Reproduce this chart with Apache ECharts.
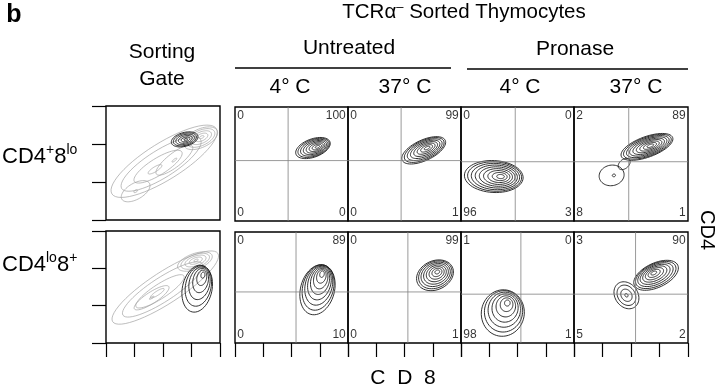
<!DOCTYPE html>
<html lang="en">
<head>
<meta charset="utf-8">
<title>TCRα- Sorted Thymocytes</title>
<script src="https://cdn.jsdelivr.net/npm/echarts@6/dist/echarts.min.js"></script>
<style>html,body{margin:0;padding:0;background:#fff}</style>
</head>
<body>
<div id="main" style="width:720px;height:388px"></div>
<script>
// quadrant percentages, order: upper-left, upper-right, lower-left, lower-right
var quadNums = [
    ['0', '100', '0', '0'], ['0', '99', '0', '1'], ['0', '0', '96', '3'], ['2', '89', '8', '1'],
    ['0', '89', '0', '10'], ['0', '99', '0', '1'], ['1', '0', '98', '1'], ['3', '90', '5', '2']
];
// quadrant gate position (CD8 on x, CD4 on y), panel scale 0-100
var quadX = [47, 47, 48, 48, 54, 53, 53, 54];
var quadY = [53, 53, 52, 52, 46, 46, 44, 44];

// contour clusters: [cx, cy, rx, ry, tilt, rings, shiftX, shiftY, faint]
var gateTop = [
    [51, 51, 54, 16, 32, 4, -8, -7, 1],
    [26, 25, 14, 7, 30, 2, 0, 0, 1],
    [60, 52, 20, 6, 38, 2, 0, 0, 1],
    [83, 71, 16, 8, 25, 5, 1, 1, 1],
    [69, 70, 12, 6, 15, 6, 1, 0, 0]
];
var gateBottom = [
    [52, 49, 55, 14, 33, 4, -7, -5, 1],
    [40, 40, 18, 5, 33, 2, 0, 0, 1],
    [78, 72, 16, 7, 20, 5, 1, 1, 1],
    [80, 48, 13, 21, -12, 6, 5, 12, 0]
];
var untreated4 = [[69, 64, 16, 8, 20, 8, 4, 1, 0]];
var untreated37 = [[67, 62, 21, 9, 25, 8, 3, 2, 0]];
var pronase4 = [[29, 39, 26, 14, -3, 9, 6, 0, 0]];
var pronase37 = [[64, 65, 24, 9, 20, 9, 3, 1, 0], [33, 40, 11, 9, 10, 2, 2, 0, 0], [44, 50, 6, 4, 40, 1, 0, 0, 0]];
var untreated4b = [[73, 48, 15, 23, -15, 8, 4, 14, 0]];
var untreated37b = [[77, 61, 17, 13, 25, 8, 2, 3, 0]];
var pronase4b = [[37, 27, 19, 21, -10, 7, 4, 9, 0]];
var pronase37b = [[72, 61, 21, 11, 25, 8, -2, 2, 0], [46, 43, 10, 13, 35, 4, 0, 0, 0]];

var panelData = [gateTop, untreated4, untreated37, pronase4, pronase37,
    gateBottom, untreated4b, untreated37b, pronase4b, pronase37b];

var font = '"Liberation Sans", Arial, Helvetica, sans-serif';

// panel boxes in px: left, top, width, height
var boxes = [
    [106, 106, 114, 114], [235, 107, 113, 114], [348, 107, 113, 114], [461, 107, 113, 114], [574, 107, 114, 114],
    [106, 231, 114, 112], [235, 232, 113, 111], [348, 232, 113, 111], [461, 232, 113, 111], [574, 232, 114, 111]
];

function ringItem(params, api) {
    var cx = api.value(0), cy = api.value(1), rx = api.value(2), ry = api.value(3);
    var tilt = api.value(4) * Math.PI / 180, n = api.value(5);
    var sx = api.value(6), sy = api.value(7), faint = api.value(8);
    var kids = [];
    for (var i = 0; i < n; i++) {
        var t = n > 1 ? i / (n - 1) : 0;
        var s = 1 - 0.87 * Math.pow(t, 1.15);
        var c = api.coord([cx + sx * t, cy + sy * t]);
        var r = api.size([rx * s, ry * s]);
        var pts = [];
        for (var k = 0; k < 56; k++) {
            var a = k / 56 * Math.PI * 2;
            var ex = r[0] * Math.cos(a), ey = r[1] * Math.sin(a);
            pts.push([c[0] + ex * Math.cos(tilt) - ey * Math.sin(tilt),
                c[1] - (ex * Math.sin(tilt) + ey * Math.cos(tilt))]);
        }
        kids.push({
            type: 'polygon', shape: {points: pts},
            style: {fill: 'none', stroke: faint ? '#a0a0a0' : '#1a1a1a', lineWidth: faint ? 0.7 : 0.9}
        });
    }
    return {type: 'group', children: kids};
}

var grid = [], xAxis = [], yAxis = [], series = [];
boxes.forEach(function (b, i) {
    var gate = (i === 0 || i === 5);
    grid.push({left: b[0], top: b[1], width: b[2], height: b[3], show: true,
        borderColor: '#000', borderWidth: 1.4, backgroundColor: 'transparent'});
    xAxis.push({gridIndex: i, type: 'value', min: 0, max: 100, interval: 25,
        axisLine: {show: false}, axisLabel: {show: false}, splitLine: {show: false},
        axisTick: {show: i >= 5, length: 14, lineStyle: {color: '#000', width: 1.2}}});
    yAxis.push({gridIndex: i, type: 'value', min: 0, max: gate ? 99 : 100, interval: gate ? 33 : 25,
        axisLine: {show: false}, axisLabel: {show: false}, splitLine: {show: false},
        axisTick: {show: gate, length: 14, lineStyle: {color: '#000', width: 1.2}}});
    series.push({type: 'custom', xAxisIndex: i, yAxisIndex: i, clip: true,
        renderItem: ringItem, data: panelData[i], silent: true});
    if (!gate) {
        var q = i < 5 ? i - 1 : i - 2;
        var lineStyle = {color: '#808080', width: 0.8};
        series.push({type: 'line', xAxisIndex: i, yAxisIndex: i, symbol: 'none', silent: true,
            lineStyle: lineStyle, data: [[quadX[q], 0], [quadX[q], 100]]});
        series.push({type: 'line', xAxisIndex: i, yAxisIndex: i, symbol: 'none', silent: true,
            lineStyle: lineStyle, data: [[0, quadY[q]], [100, quadY[q]]]});
        var nums = quadNums[q];
        series.push({type: 'scatter', xAxisIndex: i, yAxisIndex: i, symbolSize: 0, silent: true,
            label: {show: true, position: 'inside', color: '#000', fontSize: 12, fontFamily: font,
                formatter: function (p) { return p.value[2]; }},
            data: [
                {value: [2, 98, nums[0]], label: {align: 'left', verticalAlign: 'top'}},
                {value: [98, 98, nums[1]], label: {align: 'right', verticalAlign: 'top'}},
                {value: [2, 2, nums[2]], label: {align: 'left', verticalAlign: 'bottom'}},
                {value: [98, 2, nums[3]], label: {align: 'right', verticalAlign: 'bottom'}}
            ]});
    }
});

function txt(x, y, text, size, extra) {
    var st = {text: text, fontSize: size, fontFamily: font, fill: '#000', align: 'center', verticalAlign: 'middle'};
    for (var k in extra) st[k] = extra[k];
    return {type: 'text', x: x, y: y, style: st};
}
var supRich = {
    a: {fontSize: 22, fontFamily: font, lineHeight: 27},
    s: {fontSize: 14, fontFamily: font, verticalAlign: 'top', lineHeight: 16}
};

var graphics = [
    txt(14, 15, 'b', 25, {fontWeight: 'bold'}),
    {type: 'text', x: 464, y: 12, style: {text: '{a|TCRα}{s|–}{a| Sorted Thymocytes}', align: 'center', verticalAlign: 'middle',
        rich: {a: {fontSize: 20.5, fontFamily: font, lineHeight: 23}, s: {fontSize: 13, fontFamily: font, verticalAlign: 'top', lineHeight: 12}}}},
    txt(162, 52, 'Sorting', 21),
    txt(162, 79, 'Gate', 21),
    txt(349, 48, 'Untreated', 21),
    txt(575, 49, 'Pronase', 21),
    {type: 'line', shape: {x1: 235, y1: 68, x2: 451, y2: 68}, style: {stroke: '#000', lineWidth: 1.3}},
    {type: 'line', shape: {x1: 467, y1: 69, x2: 688, y2: 69}, style: {stroke: '#000', lineWidth: 1.3}},
    txt(290, 87, '4° C', 21),
    txt(405, 87, '37° C', 21),
    txt(520, 87, '4° C', 21),
    txt(636, 87, '37° C', 21),
    {type: 'text', x: 2, y: 157, style: {text: '{a|CD4}{s|+}{a|8}{s|lo}', verticalAlign: 'middle', rich: supRich}},
    {type: 'text', x: 2, y: 265, style: {text: '{a|CD4}{s|lo}{a|8}{s|+}', verticalAlign: 'middle', rich: supRich}},
    txt(403, 378, 'C  D  8', 21),
    {type: 'text', x: 707, y: 230, rotation: -Math.PI / 2,
        style: {text: 'CD4', fontSize: 20, fontFamily: font, fill: '#000', align: 'center', verticalAlign: 'middle'}}
];

var chart = echarts.init(document.getElementById('main'));
chart.setOption({
    animation: false,
    backgroundColor: '#fff',
    grid: grid,
    xAxis: xAxis,
    yAxis: yAxis,
    series: series,
    graphic: graphics
});
</script>
</body>
</html>
